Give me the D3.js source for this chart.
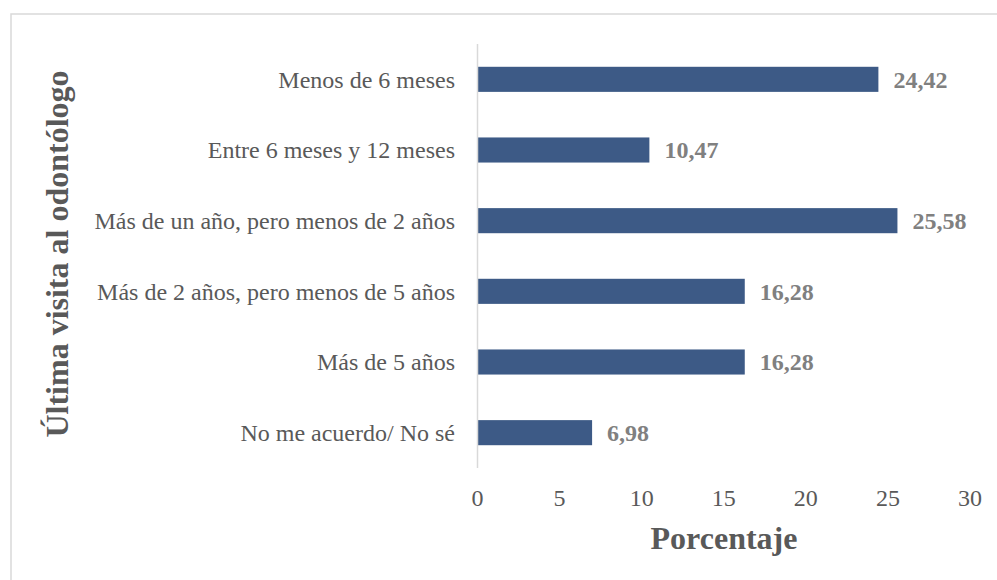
<!DOCTYPE html>
<html><head><meta charset="utf-8">
<script src="https://cdn.jsdelivr.net/npm/d3@7"></script>
<style>body{margin:0;background:#fff;}svg{display:block;}</style>
</head><body>
<svg id="c" width="997" height="580"></svg>
<script>
const categories = ["Menos de 6 meses","Entre 6 meses y 12 meses","Más de un año, pero menos de 2 años","Más de 2 años, pero menos de 5 años","Más de 5 años","No me acuerdo/ No sé"];
const values = [24.42, 10.47, 25.58, 16.28, 16.28, 6.98];
const valueLabels = ["24,42","10,47","25,58","16,28","16,28","6,98"];
const xTicks = [0,5,10,15,20,25,30];
const xTitle = "Porcentaje";
const yTitle = "Última visita al odontólogo";

const svg = d3.select("#c");
const font = "'Liberation Serif','Times New Roman',serif";
svg.append("rect").attr("x",11).attr("y",14).attr("width",1000).attr("height",600)
  .attr("fill","#fff").attr("stroke","#d9d9d9").attr("stroke-width",1.5);

const x = d3.scaleLinear().domain([0,30]).range([477.5,970]);
const y = d3.scaleBand().domain(categories).range([44,468]).paddingInner(0.645).paddingOuter(0.3225);

const g = svg.append("g");
g.selectAll("rect.bar").data(values).join("rect").attr("class","bar")
  .attr("x",x(0)).attr("y",(d,i)=>y(categories[i]))
  .attr("width",d=>x(d)-x(0)).attr("height",y.bandwidth())
  .attr("fill","#3d5a86");

g.append("line").attr("x1",x(0)).attr("x2",x(0)).attr("y1",44).attr("y2",468)
  .attr("stroke","#d9d9d9").attr("stroke-width",1.5);

g.selectAll("text.cat").data(categories).join("text").attr("class","cat")
  .attr("x",455).attr("y",d=>y(d)+y.bandwidth()/2).attr("dy","0.35em")
  .attr("text-anchor","end").attr("font-family",font).attr("font-size",24).attr("fill","#595959")
  .text(d=>d);

g.selectAll("text.val").data(values).join("text").attr("class","val")
  .attr("x",d=>x(d)+15).attr("y",(d,i)=>y(categories[i])+y.bandwidth()/2).attr("dy","0.35em")
  .attr("font-family",font).attr("font-size",24).attr("font-weight","bold").attr("fill","#808080")
  .text((d,i)=>valueLabels[i]);

g.selectAll("text.tick").data(xTicks).join("text").attr("class","tick")
  .attr("x",d=>x(d)).attr("y",498).attr("dy","0.35em").attr("text-anchor","middle")
  .attr("font-family",font).attr("font-size",24).attr("fill","#595959").text(d=>d);

svg.append("text").attr("x",724).attr("y",538).attr("dy","0.35em").attr("text-anchor","middle")
  .attr("font-family",font).attr("font-size",32).attr("font-weight","bold").attr("fill","#595959").text(xTitle);

svg.append("text").attr("transform","translate(57,254) rotate(-90)").attr("dy","0.35em").attr("text-anchor","middle")
  .attr("font-family",font).attr("font-size",32).attr("font-weight","bold").attr("fill","#595959").text(yTitle);
</script>
</body></html>
